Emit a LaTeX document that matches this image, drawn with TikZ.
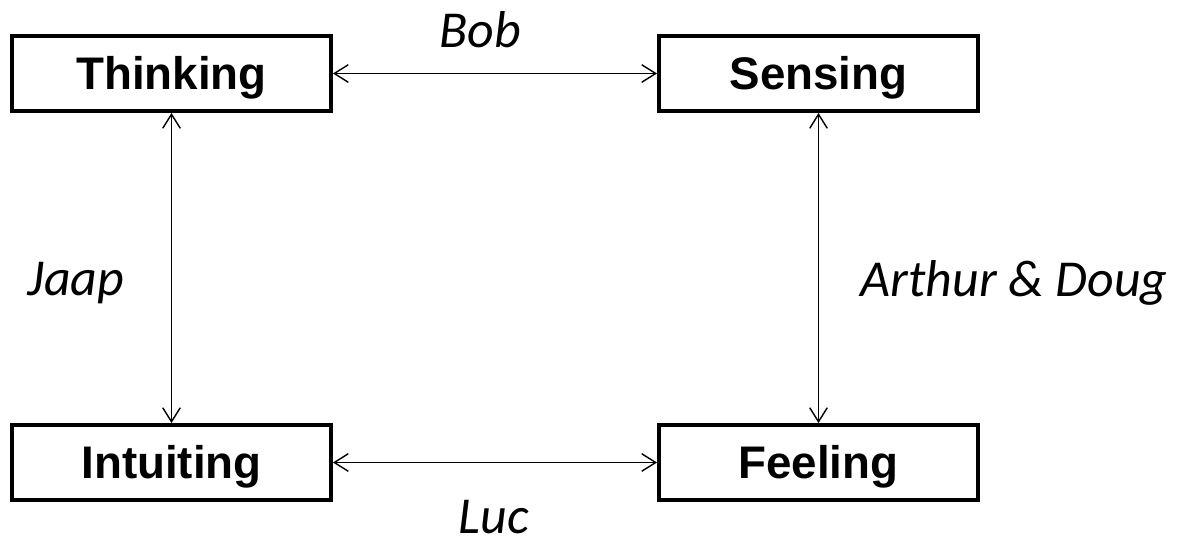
\documentclass[tikz,border=0pt]{standalone}
\usepackage{fontspec}
\setmainfont{Liberation Sans}
\newfontfamily\namefont{Carlito}
\usetikzlibrary{arrows.meta}
\begin{document}
\begin{tikzpicture}[
  box/.style={draw,line width=2.2pt,minimum width=6.38cm,minimum height=1.5cm,
    text height=18.6pt,text depth=0pt,font=\fontsize{26}{30}\selectfont\bfseries},
  who/.style={inner sep=0pt,font=\namefont\itshape\fontsize{29.5}{34}\selectfont},
  link/.style={line width=0.8pt,{Straight Barb[length=8pt,width=10pt]}-{Straight Barb[length=8pt,width=10pt]}}]
\useasboundingbox(0,0)rectangle(23.58,10.84);
\pgfmathsetmacro{\xl}{3.43}
\pgfmathsetmacro{\xr}{16.37}
\pgfmathsetmacro{\yt}{9.37}
\pgfmathsetmacro{\yb}{1.59}
\node[box](thinking)at(\xl,\yt){Thinking};
\node[box](sensing)at(\xr,\yt){Sensing};
\node[box](intuiting)at(\xl,\yb){Intuiting};
\node[box](feeling)at(\xr,\yb){Feeling};
\draw[link](thinking)--(sensing);
\draw[link](intuiting)--(feeling);
\draw[link](thinking)--(intuiting);
\draw[link](sensing)--(feeling);
\node[who](bob)at(9.6,10.24){Bob};
\node[who](luc)at(9.88,0.5){Luc};
\node[who](jaap)at(1.52,5.18){Jaap};
\node[who](arthur)at(20.28,5.18){Arthur \& Doug};
\end{tikzpicture}
\end{document}
